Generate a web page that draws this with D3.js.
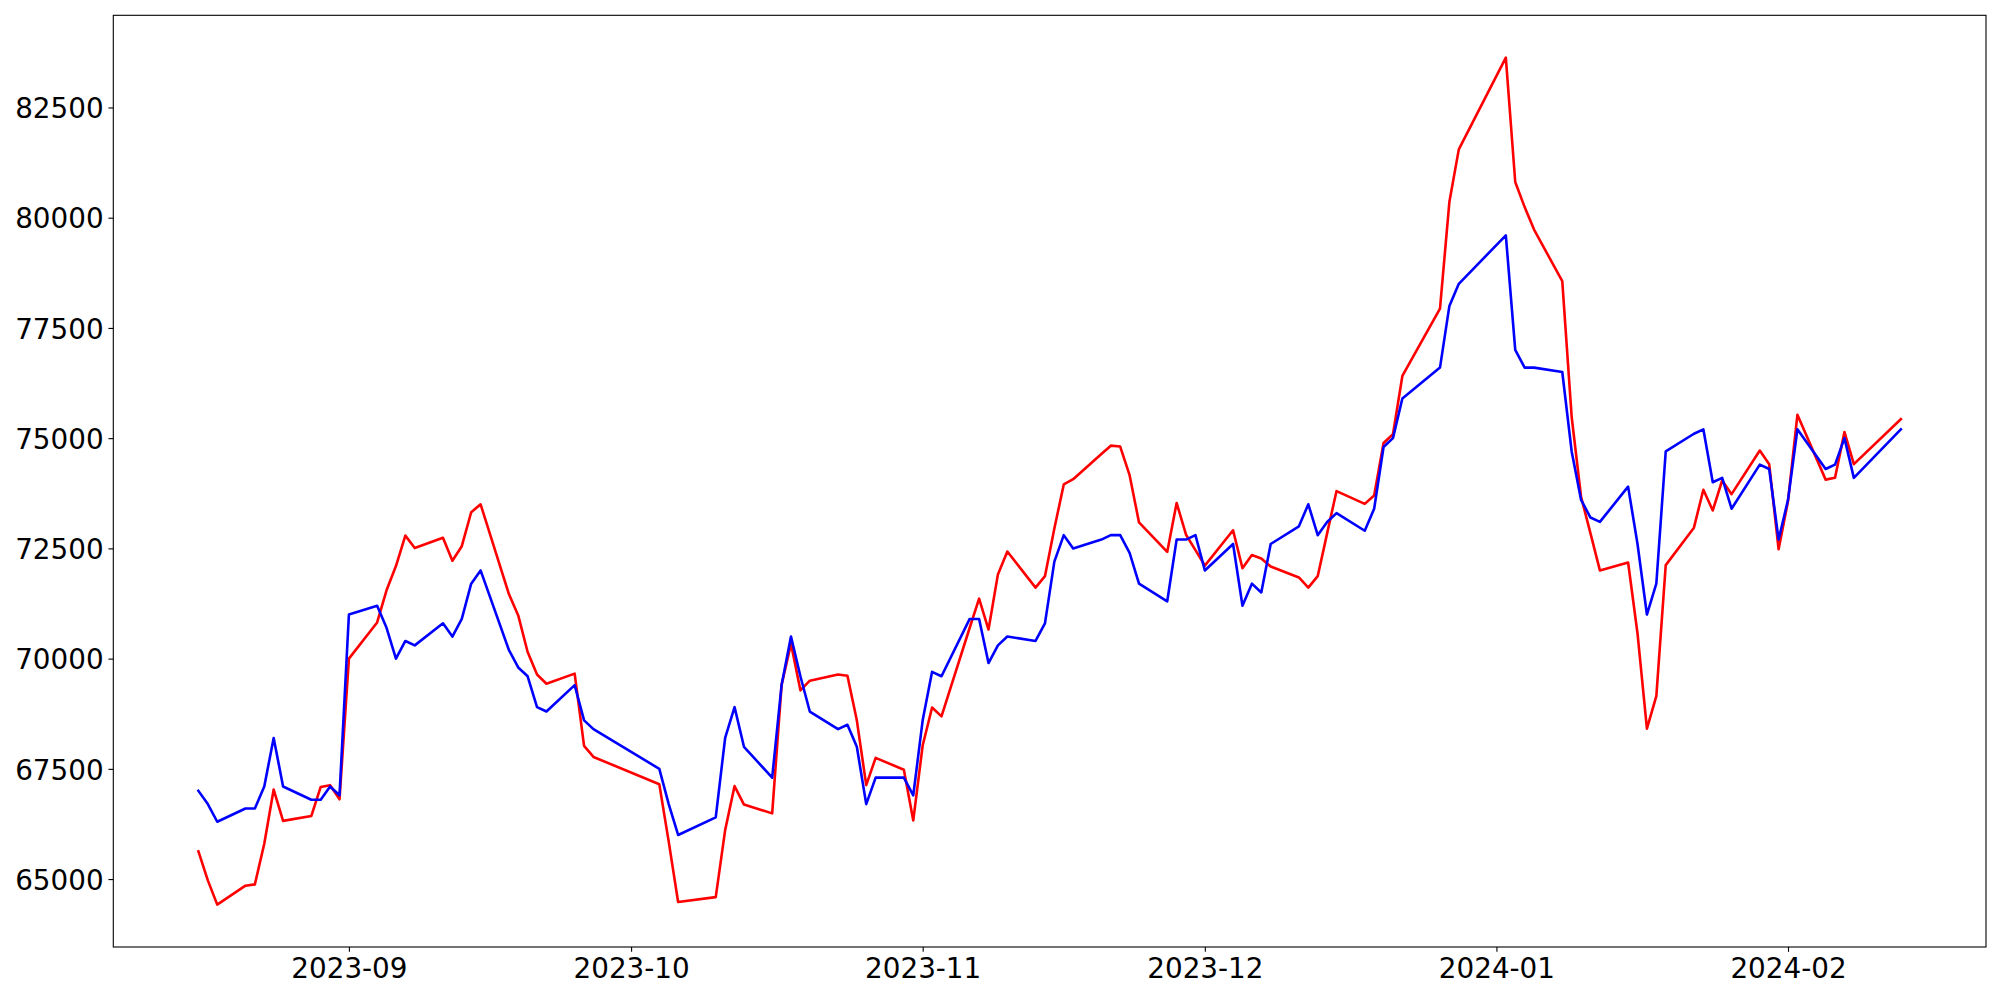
<!DOCTYPE html>
<html>
<head>
<meta charset="utf-8">
<script src="https://cdn.jsdelivr.net/npm/d3@7"></script>
<style>
  html, body { margin: 0; padding: 0; background: #fff; }
  svg { display: block; }
  text { font-family: "DejaVu Sans", sans-serif; }
</style>
</head>
<body>
<svg id="chart" width="2000" height="1000"></svg>
<script>
const dates = [
"2023-08-16","2023-08-17","2023-08-18","2023-08-21","2023-08-22","2023-08-23","2023-08-24","2023-08-25","2023-08-28","2023-08-29","2023-08-30","2023-08-31",
"2023-09-01","2023-09-04","2023-09-05","2023-09-06","2023-09-07","2023-09-08","2023-09-11","2023-09-12","2023-09-13","2023-09-14","2023-09-15","2023-09-18","2023-09-19","2023-09-20","2023-09-21","2023-09-22","2023-09-25","2023-09-26","2023-09-27",
"2023-10-04","2023-10-05","2023-10-06","2023-10-10","2023-10-11","2023-10-12","2023-10-13","2023-10-16","2023-10-17","2023-10-18","2023-10-19","2023-10-20","2023-10-23","2023-10-24","2023-10-25","2023-10-26","2023-10-27","2023-10-30","2023-10-31",
"2023-11-01","2023-11-02","2023-11-03","2023-11-06","2023-11-07","2023-11-08","2023-11-09","2023-11-10","2023-11-13","2023-11-14","2023-11-15","2023-11-16","2023-11-17","2023-11-20","2023-11-21","2023-11-22","2023-11-23","2023-11-24","2023-11-27","2023-11-28","2023-11-29","2023-11-30",
"2023-12-01","2023-12-04","2023-12-05","2023-12-06","2023-12-07","2023-12-08","2023-12-11","2023-12-12","2023-12-13","2023-12-14","2023-12-15","2023-12-18","2023-12-19","2023-12-20","2023-12-21","2023-12-22","2023-12-26","2023-12-27","2023-12-28",
"2024-01-02","2024-01-03","2024-01-04","2024-01-05","2024-01-08","2024-01-09","2024-01-10","2024-01-11","2024-01-12","2024-01-15","2024-01-16","2024-01-17","2024-01-18","2024-01-19","2024-01-22","2024-01-23","2024-01-24","2024-01-25","2024-01-26","2024-01-29","2024-01-30","2024-01-31",
"2024-02-01","2024-02-02","2024-02-05","2024-02-06","2024-02-07","2024-02-08","2024-02-13"
];

const blueValues = [
67000,66700,66300,66600,66600,67100,68200,67100,66800,66800,67100,66900,
71000,71200,70700,70000,70400,70300,70800,70500,70900,71700,72000,70200,69800,69600,68900,68800,69400,68600,68400,
67500,66700,66000,66400,68200,68900,68000,67300,69400,70500,69600,68800,68400,68500,68000,66700,67300,67300,66900,
68600,69700,69600,70900,70900,69900,70300,70500,70400,70800,72200,72800,72500,72700,72800,72800,72400,71700,71300,72700,72700,72800,
72000,72600,71200,71700,71500,72600,73000,73500,72800,73100,73300,72900,73400,74800,75000,75900,76600,78000,78500,
79600,77000,76600,76600,76500,74700,73600,73200,73100,73900,72600,71000,71700,74700,75100,75200,74000,74100,73400,74400,74300,72700,
73600,75200,74300,74400,75000,74100,75200
];

const redValues = [
65630,64970,64420,64850,64880,65800,67030,66320,66430,67090,67130,66810,
70000,70820,71550,72100,72790,72510,72740,72220,72550,73320,73500,71470,70980,70150,69640,69430,69660,68020,67770,
67150,65850,64480,64590,66110,67110,66690,66490,69400,70340,69280,69500,69640,69610,68600,67130,67750,67480,66330,
68030,68890,68690,70700,71360,70660,71910,72430,71610,71870,72950,73950,74070,74640,74830,74810,74160,73090,72420,73530,72810,72460,
72110,72910,72050,72350,72270,72090,71840,71610,71870,72840,73800,73510,73700,74890,75090,76410,77940,80360,81550,
83630,80810,80240,79730,78560,75480,73670,72840,72000,72180,70570,68410,69150,72120,72970,73830,73360,74040,73730,74720,74410,72480,
73570,75530,74060,74100,75140,74410,75430
];

const yTickValues = [65000, 67500, 70000, 72500, 75000, 77500, 80000, 82500];

(function () {
  // layout
  const plotLeft = 113.3, plotRight = 1986, plotTop = 15.3, plotBottom = 947;
  const fontPx = 27.8;
  const tickLen = 4.86, pad = 4.86;

  const parse = d3.timeParse("%Y-%m-%d");
  const dateObjs = dates.map(parse);

  const svg = d3.select("#chart");

  // x scale with matplotlib-like 5% margins
  const xMin = d3.min(dateObjs), xMax = d3.max(dateObjs);
  const xSpan = xMax - xMin;
  const x = d3.scaleTime()
    .domain([new Date(+xMin - 0.05 * xSpan), new Date(+xMax + 0.05 * xSpan)])
    .range([plotLeft, plotRight]);

  const allVals = blueValues.concat(redValues);
  const yMin = d3.min(allVals), yMax = d3.max(allVals);
  const ySpan = yMax - yMin;
  const y = d3.scaleLinear()
    .domain([yMin - 0.05 * ySpan, yMax + 0.05 * ySpan])
    .range([plotBottom, plotTop]);

  // lines
  const redData = dateObjs.map((d, i) => ({ d, v: redValues[i] }));
  const blueData = dateObjs.map((d, i) => ({ d, v: blueValues[i] }));
  const line = d3.line().x(p => x(p.d)).y(p => y(p.v));

  const plot = svg.append("g");
  plot.append("path").datum(redData)
    .attr("d", line).attr("fill", "none").attr("stroke", "#ff0000")
    .attr("stroke-width", 2.6).attr("stroke-linejoin", "round").attr("stroke-linecap", "square");
  plot.append("path").datum(blueData)
    .attr("d", line).attr("fill", "none").attr("stroke", "#0000ff")
    .attr("stroke-width", 2.6).attr("stroke-linejoin", "round").attr("stroke-linecap", "square");

  // x axis
  const monthTicks = d3.timeMonth.range(d3.timeMonth.ceil(x.domain()[0]), x.domain()[1]);
  const xAxis = d3.axisBottom(x)
    .tickValues(monthTicks)
    .tickFormat(d3.timeFormat("%Y-%m"))
    .tickSize(tickLen).tickPadding(pad);
  const gx = svg.append("g").attr("transform", `translate(0,${plotBottom})`).call(xAxis);
  gx.select(".domain").remove();
  gx.selectAll(".tick line").attr("stroke", "#000").attr("stroke-width", 1.1);
  gx.selectAll(".tick text")
    .attr("font-size", fontPx).attr("fill", "#000")
    .attr("font-family", "DejaVu Sans")
    .attr("y", tickLen + pad).attr("dy", "0.76em");

  // y axis
  const yAxis = d3.axisLeft(y)
    .tickValues(yTickValues)
    .tickFormat(d3.format("d"))
    .tickSize(tickLen).tickPadding(pad);
  const gy = svg.append("g").attr("transform", `translate(${plotLeft},0)`).call(yAxis);
  gy.select(".domain").remove();
  gy.selectAll(".tick line").attr("stroke", "#000").attr("stroke-width", 1.1);
  gy.selectAll(".tick text")
    .attr("font-size", fontPx).attr("fill", "#000")
    .attr("font-family", "DejaVu Sans")
    .attr("dy", "0.365em");

  // frame
  svg.append("rect")
    .attr("x", plotLeft).attr("y", plotTop)
    .attr("width", plotRight - plotLeft).attr("height", plotBottom - plotTop)
    .attr("fill", "none").attr("stroke", "#000").attr("stroke-width", 1.1);
})();
</script>
</body>
</html>
